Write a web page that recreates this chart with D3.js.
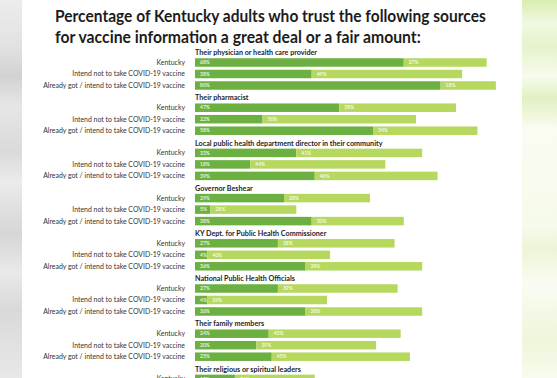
<!DOCTYPE html>
<html><head><meta charset="utf-8">
<script src="https://cdn.jsdelivr.net/npm/d3@7"></script>
<style>html,body{margin:0;padding:0;background:#fff;}svg{display:block;}</style>
</head><body>
<script>
const groups = [
  "Their physician or health care provider",
  "Their pharmacist",
  "Local public health department director in their community",
  "Governor Beshear",
  "KY Dept. for Public Health Commissioner",
  "National Public Health Officials",
  "Their family members",
  "Their religious or spiritual leaders"
];
const rows = ["Kentucky", "Intend not to take COVID-19 vaccine", "Already got / intend to take COVID-19 vaccine"];
// "a great deal" (dark) and "a fair amount" (light) shares, per group, per row
const greatDeal = [[68,38,80],[47,22,58],[33,18,39],[29,5,38],[27,4,36],[27,4,36],[24,20,25],[13,null,null]];
const fairAmount = [[27,49,18],[38,50,34],[41,44,40],[28,28,30],[38,40,38],[39,39,38],[43,39,45],[26,null,null]];
const titleLines = ["Percentage of Kentucky adults who trust the following sources",
                    "for vaccine information a great deal or a fair amount:"];

const W = 557, H = 378;
const svg = d3.select("body").append("svg").attr("width", W).attr("height", H);
const defs = svg.append("defs");

// photographed background edges
const lg = defs.append("linearGradient").attr("id","lg").attr("x1",0).attr("y1",0).attr("x2",0).attr("y2",1);
[[0,"#ececec"],[0.12,"#e2e2e2"],[0.2,"#d2d2d2"],[0.28,"#e6e6e6"],[0.4,"#dadada"],[0.48,"#ebebeb"],[0.62,"#d6d6d6"],[0.72,"#e9e9e9"],[0.82,"#d9d9d9"],[1,"#e8e8e8"]]
  .forEach(s => lg.append("stop").attr("offset", s[0]).attr("stop-color", s[1]));
const rg = defs.append("linearGradient").attr("id","rg").attr("x1",0).attr("y1",0).attr("x2",0).attr("y2",1);
[[0,"#d9edae"],[0.06,"#f1f8e2"],[0.12,"#e6f2cc"],[0.2,"#f7fbec"],[0.26,"#e2f0c4"],[0.34,"#fafcf2"],[0.6,"#f6faea"],[0.66,"#ecf5d6"],[0.75,"#fafcf3"],[0.9,"#eef6da"],[1,"#f8fbef"]]
  .forEach(s => rg.append("stop").attr("offset", s[0]).attr("stop-color", s[1]));
svg.append("rect").attr("x",0).attr("y",0).attr("width",22).attr("height",H).attr("fill","url(#lg)");
svg.append("rect").attr("x",522).attr("y",0).attr("width",W-522).attr("height",H).attr("fill","url(#rg)");
svg.append("rect").attr("x",22).attr("y",0).attr("width",500).attr("height",H).attr("fill","#ffffff");

const x = d3.scaleLinear().domain([0,100]).range([195, 502]);
const gScale = d3.scaleBand().domain(groups).range([46.75, 46.75 + groups.length*45.2]);
const rScale = d3.scaleBand().domain(rows).range([10, 44.5]).paddingInner(0.26).paddingOuter(0.13);

const darkC = "#6cb041", lightC = "#b6d85f";

function fitGroup(sel, refNode, target){
  const k = target / refNode.getComputedTextLength();
  sel.each(function(){
    const t = d3.select(this);
    t.attr("transform", `translate(${t.attr("data-x")},${t.attr("data-y")}) scale(${k},1)`);
  });
}

// Title
svg.selectAll("text.title").data(titleLines).join("text")
  .attr("class","title")
  .attr("font-family","Lato, 'Open Sans', sans-serif").attr("font-weight","bold")
  .attr("font-size", 16.5).attr("fill","#1c1c1c").text(d => d)
  .each(function(d,i){
    const target = i === 0 ? 431 : 366;
    const k = target / this.getComputedTextLength();
    d3.select(this).attr("transform", `translate(55,${22 + i*20.5}) scale(${k},1)`);
  });

const g = svg.selectAll("g.grp").data(groups).join("g").attr("class","grp")
  .attr("transform", d => `translate(0,${gScale(d)})`);

// group titles
const gt = g.append("text").attr("class","gtitle")
  .attr("data-x", x(0)).attr("data-y", 8.5)
  .attr("font-family","Lato, 'Open Sans', sans-serif").attr("font-weight","bold")
  .attr("font-size", 7.2).attr("fill","#1e1e1e").text(d => d);
fitGroup(gt, gt.node(), 122);

// row labels (only rows that have data)
const rl = g.selectAll("text.rlab")
  .data((d,gi) => rows.map((r,ri) => ({r, ri, gi})).filter(d => greatDeal[d.gi][d.ri] != null))
  .join("text")
  .attr("class","rlab")
  .attr("data-x", 185).attr("data-y", d => rScale(d.r) + rScale.bandwidth()/2 + 2.4)
  .attr("text-anchor","end")
  .attr("font-family","Lato, 'Open Sans', sans-serif")
  .attr("font-size", 7).attr("fill","#333").text(d => d.r);
fitGroup(rl, rl.filter(d => d.ri === 2).node(), 142);

// bars
const rowsSel = g.selectAll("g.row").data((d,gi) => rows.map((r,ri) => ({r, ri, dark: greatDeal[gi][ri], light: fairAmount[gi][ri]}))
    .filter(d => d.dark != null))
  .join("g").attr("class","row").attr("transform", d => `translate(0,${rScale(d.r)})`);
rowsSel.append("rect").attr("x", x(0)).attr("y",0)
  .attr("width", d => x(d.dark) - x(0)).attr("height", rScale.bandwidth()).attr("fill", darkC);
rowsSel.append("rect").attr("x", d => x(d.dark)).attr("y",0)
  .attr("width", d => x(d.dark + d.light) - x(d.dark)).attr("height", rScale.bandwidth()).attr("fill", lightC);
rowsSel.append("text").attr("x", x(0) + 5).attr("y", rScale.bandwidth()/2 + 1.8)
  .attr("font-family","Lato, sans-serif").attr("font-weight","bold").attr("font-size",5)
  .attr("fill","#fff").attr("fill-opacity",0.85).text(d => d.dark + "%");
rowsSel.append("text").attr("x", d => x(d.dark) + 5).attr("y", rScale.bandwidth()/2 + 1.8)
  .attr("font-family","Lato, sans-serif").attr("font-weight","bold").attr("font-size",5)
  .attr("fill","#fff").attr("fill-opacity",0.85).text(d => d.light + "%");
</script>
</body></html>
